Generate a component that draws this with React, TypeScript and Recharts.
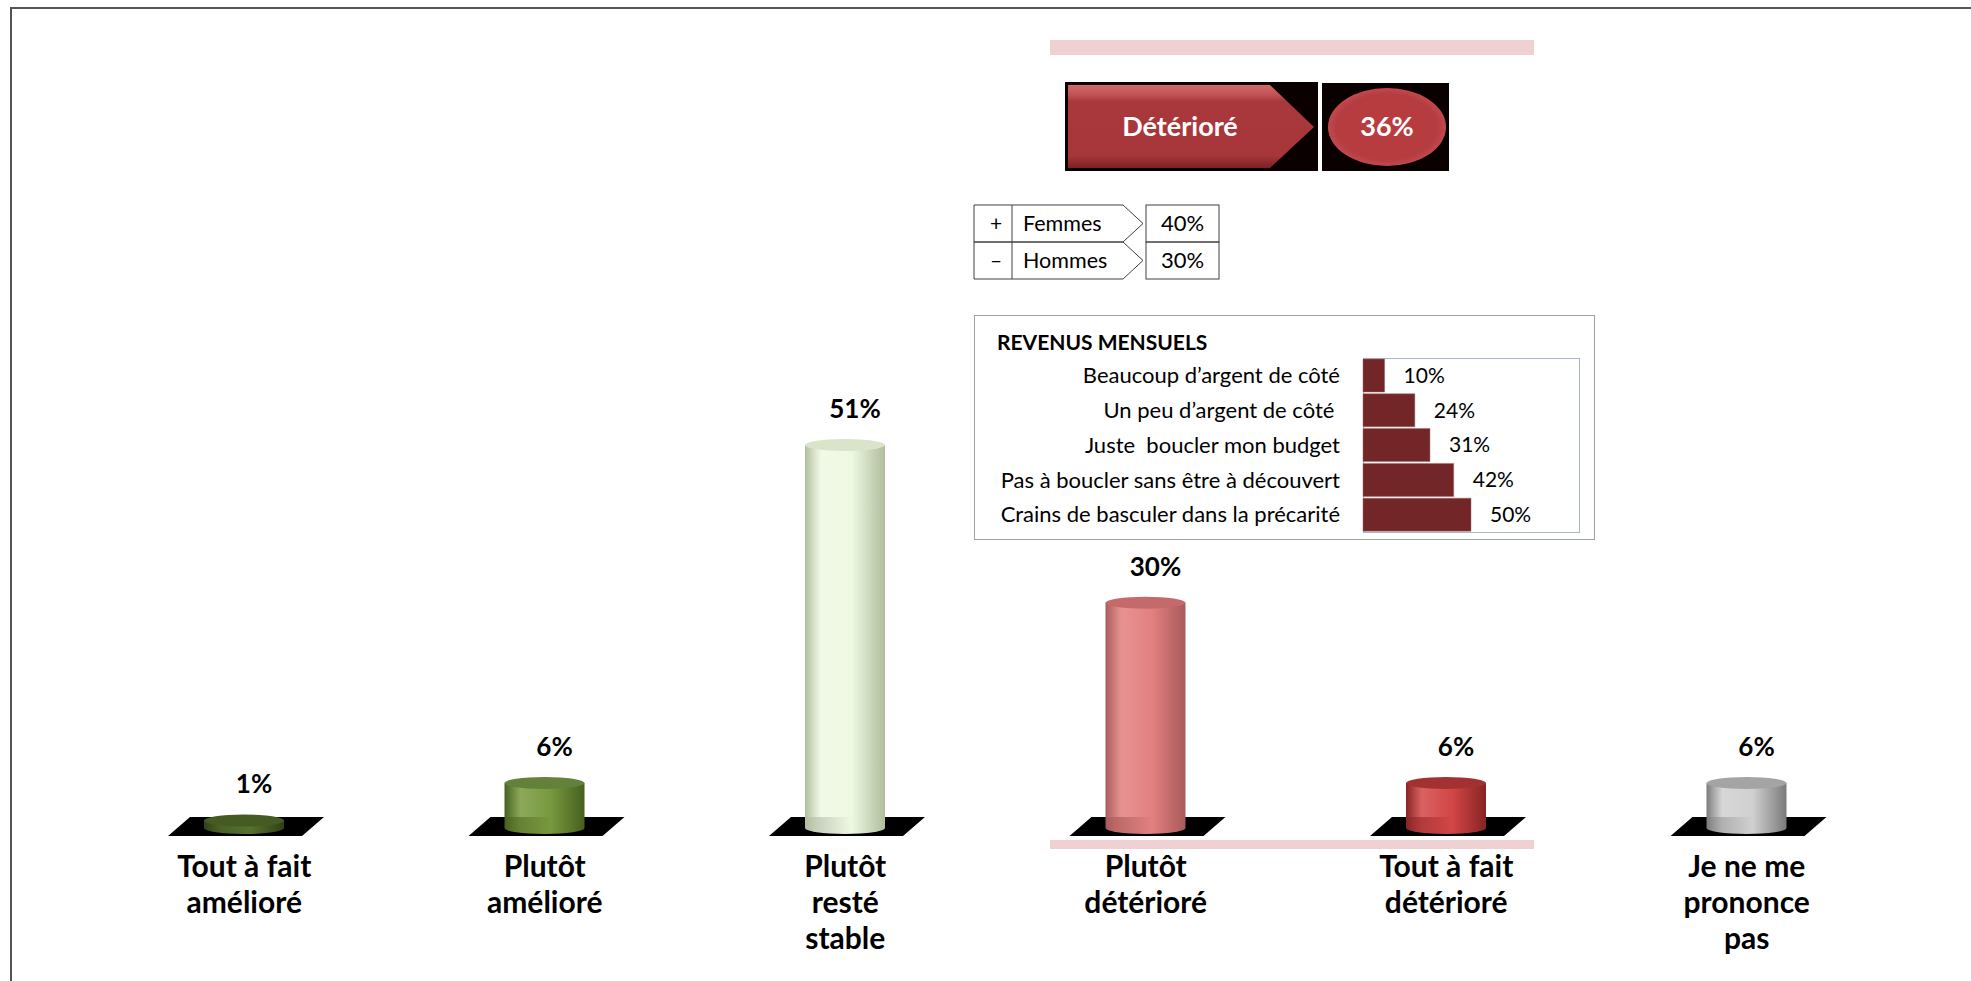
import React from 'react';
import { BarChart, Bar, XAxis, YAxis, LabelList } from 'recharts';

// ---------- DATA ----------
const categories = [
  'Tout à fait\namélioré',
  'Plutôt\namélioré',
  'Plutôt\nresté\nstable',
  'Plutôt\ndétérioré',
  'Tout à fait\ndétérioré',
  'Je ne me\nprononce\npas',
];
const values = [1, 6, 51, 30, 6, 6];

const summaryLabel = 'Détérioré';
const summaryValue = 36;

const genderSigns = ['+', '–'];
const genderLabels = ['Femmes', 'Hommes'];
const genderValues = [40, 30];

const revenusTitle = 'REVENUS MENSUELS';
const revenusLabels = [
  'Beaucoup d’argent de côté',
  'Un peu d’argent de côté ',
  'Juste  boucler mon budget',
  'Pas à boucler sans être à découvert',
  'Crains de basculer dans la précarité',
];
const revenusValues = [10, 24, 31, 42, 50];

// ---------- STYLE ----------
const FONT = 'Lato, "Open Sans", "Noto Sans", sans-serif';
// [edge, center highlight, top cap]
const cylColors = [
  ['#30401a', '#56722c', '#465a24'],
  ['#46601f', '#78993e', '#62813a'],
  ['#b0bd9e', '#eef9e2', '#d9e4cb'],
  ['#a85a5a', '#e38080', '#c46a6a'],
  ['#862424', '#d24646', '#a23232'],
  ['#7a7a7a', '#d0d0d0', '#a4a4a4'],
];

const mainData = categories.map((c, i) => ({ name: c, value: values[i] }));
const revenusData = revenusLabels.map((l, i) => ({ name: l, value: revenusValues[i] }));

const Cylinder = (props: any) => {
  const { x, y, width, height, index } = props;
  const cx = x + width / 2;
  const base = y + height;
  const ry = 6;
  const c = cylColors[index % cylColors.length];
  const gid = `cylGrad${index}`;
  return (
    <g>
      <defs>
        <linearGradient id={gid} x1="0" y1="0" x2="1" y2="0">
          <stop offset="0%" stopColor={c[0]} />
          <stop offset="20%" stopColor={c[1]} stopOpacity={0.85} />
          <stop offset="58%" stopColor={c[1]} />
          <stop offset="100%" stopColor={c[0]} />
        </linearGradient>
      </defs>
      <polygon
        points={`${cx - 76},${base + 8} ${cx - 54},${base - 11} ${cx + 80},${base - 11} ${cx + 58},${base + 8}`}
        fill="#000"
      />
      <path
        d={`M${x},${y} L${x},${base} A${width / 2},${ry} 0 0 0 ${x + width},${base} L${x + width},${y} Z`}
        fill={`url(#${gid})`}
      />
      <ellipse cx={cx} cy={y} rx={width / 2} ry={ry} fill={c[2]} />
    </g>
  );
};

const XTick = (props: any) => {
  const { x, y, payload } = props;
  const lines = String(payload.value).split('\n');
  return (
    <text x={x} y={y} textAnchor="middle" fontFamily={FONT} fontWeight={700} fontSize={30} fill="#000">
      {lines.map((l, i) => (
        <tspan key={i} x={x} dy={i === 0 ? 49 : 36}>
          {l}
        </tspan>
      ))}
    </text>
  );
};

const ValueLabel = (props: any) => {
  const { x, y, width, value } = props;
  return (
    <text x={x + width / 2 + 10} y={y - 27} textAnchor="middle" fontFamily={FONT} fontWeight={700} fontSize={26} fill="#000">
      {`${value}%`}
    </text>
  );
};

const RevTick = (props: any) => {
  const { x, y, payload } = props;
  return (
    <text x={x} y={y} dy="0.35em" textAnchor="end" fontFamily={FONT} fontSize={22} fill="#000" style={{ whiteSpace: 'pre' }}>
      {payload.value}
    </text>
  );
};

const RevLabel = (props: any) => {
  const { x, y, width, height, value } = props;
  return (
    <text x={x + width + 19} y={y + height / 2} dy="0.35em" fontFamily={FONT} fontSize={21} fill="#000">
      {`${value}%`}
    </text>
  );
};

export default function App() {
  return (
    <div style={{ position: 'absolute', left: 0, top: 0, width: 1971, height: 981, background: '#fff', overflow: 'hidden', fontFamily: FONT }}>
      {/* frame */}
      <div style={{ position: 'absolute', left: 10, top: 7, width: 1980, height: 1000, borderTop: '2px solid #555', borderLeft: '2px solid #555' }} />

      {/* main chart */}
      <div style={{ position: 'absolute', left: 0, top: 0 }}>
        <BarChart width={1971} height={981} data={mainData} margin={{ top: 77, right: 74, bottom: 53, left: 94 }}>
          <XAxis dataKey="name" height={100} axisLine={false} tickLine={false} tickSize={0} tickMargin={0} tick={<XTick />} interval={0} />
          <YAxis hide domain={[0, 100]} />
          <Bar dataKey="value" barSize={80} shape={<Cylinder />} isAnimationActive={false}>
            <LabelList dataKey="value" content={<ValueLabel />} />
          </Bar>
        </BarChart>
      </div>

      {/* pink bars */}
      <div style={{ position: 'absolute', left: 1050, top: 40, width: 484, height: 15, background: '#f0d1d3' }} />
      <div style={{ position: 'absolute', left: 1050, top: 840, width: 484, height: 9, background: '#f0d1d3' }} />

      {/* summary badges + gender table */}
      <svg width={1971} height={981} style={{ position: 'absolute', left: 0, top: 0, pointerEvents: 'none' }}>
        <defs>
          <linearGradient id="arrowGrad" x1="0" y1="0" x2="0" y2="1">
            <stop offset="0%" stopColor="#d46a6c" />
            <stop offset="12%" stopColor="#c05256" />
            <stop offset="20%" stopColor="#a8383c" />
            <stop offset="85%" stopColor="#a6363a" />
            <stop offset="100%" stopColor="#7c2024" />
          </linearGradient>
          <radialGradient id="ovalGrad" cx="0.5" cy="0.5" r="0.5">
            <stop offset="0%" stopColor="#b93c40" />
            <stop offset="85%" stopColor="#b53c40" />
            <stop offset="100%" stopColor="#c24a4e" />
          </radialGradient>
        </defs>
        <rect x={1065} y={82} width={253} height={89} fill="#0a0000" />
        <polygon points="1068,85 1270,85 1314,127 1270,168 1068,168" fill="url(#arrowGrad)" />
        <text x={1180} y={127} dy="0.35em" textAnchor="middle" fontFamily={FONT} fontWeight={700} fontSize={27} fill="#fff">
          {summaryLabel}
        </text>
        <rect x={1322} y={83} width={127} height={88} fill="#0a0000" />
        <ellipse cx={1387} cy={127} rx={59} ry={39} fill="url(#ovalGrad)" />
        <text x={1387} y={127} dy="0.35em" textAnchor="middle" fontFamily={FONT} fontWeight={700} fontSize={27} fill="#fff">
          {`${summaryValue}%`}
        </text>

        {genderLabels.map((g, i) => {
          const top = 205 + i * 37;
          const bot = top + 37;
          const mid = (top + bot) / 2;
          return (
            <g key={g} stroke="#404040" strokeWidth={1} fill="none">
              <line x1={974} y1={top} x2={974} y2={bot} />
              <line x1={1012} y1={top} x2={1012} y2={bot} />
              <polyline points={`974,${top} 1123,${top} 1143,${mid} 1123,${bot} 974,${bot}`} />
              <rect x={1146} y={top} width={73} height={37} />
              <text x={996} y={mid} dy="0.35em" textAnchor="middle" fontFamily={FONT} fontSize={21} fill="#000" stroke="none">
                {genderSigns[i]}
              </text>
              <text x={1023} y={mid} dy="0.35em" fontFamily={FONT} fontSize={21.5} fill="#000" stroke="none">
                {g}
              </text>
              <text x={1182.5} y={mid} dy="0.35em" textAnchor="middle" fontFamily={FONT} fontSize={22} fill="#000" stroke="none">
                {`${genderValues[i]}%`}
              </text>
            </g>
          );
        })}
      </svg>

      {/* revenus box */}
      <div style={{ position: 'absolute', left: 974, top: 315, width: 619, height: 223, border: '1px solid #a0a0a0', background: '#fff' }} />
      <div style={{ position: 'absolute', left: 997, top: 328, fontSize: 21, fontWeight: 700, lineHeight: '28px', color: '#000', fontFamily: FONT }}>
        {revenusTitle}
      </div>
      <div style={{ position: 'absolute', left: 1363, top: 358, width: 215, height: 173, border: '1px solid #a9b6c8' }} />
      <div style={{ position: 'absolute', left: 1000, top: 358 }}>
        <BarChart layout="vertical" width={579} height={174} data={revenusData} margin={{ top: 0, right: 0, bottom: 0, left: 0 }} barCategoryGap={1}>
          <XAxis type="number" hide domain={[0, 100]} />
          <YAxis type="category" dataKey="name" width={363} axisLine={false} tickLine={false} tickSize={0} tickMargin={23} tick={<RevTick />} interval={0} />
          <Bar dataKey="value" fill="#722628" stroke="#9a6a6a" strokeWidth={0.5} isAnimationActive={false}>
            <LabelList dataKey="value" content={<RevLabel />} />
          </Bar>
        </BarChart>
      </div>
    </div>
  );
}
